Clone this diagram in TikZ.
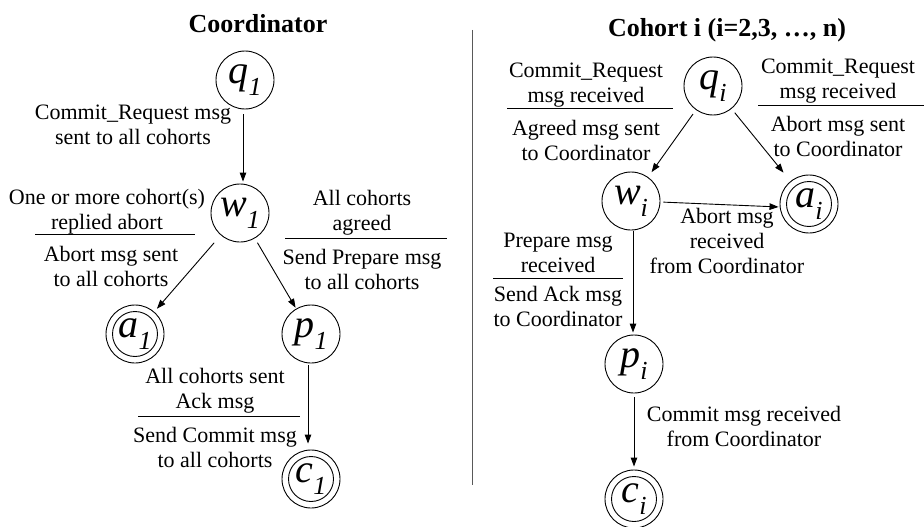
\documentclass[tikz,border=0pt]{standalone}
\usepackage{fontspec}
\setmainfont{Liberation Serif}
\usetikzlibrary{arrows.meta}

% state label: italic letter with an italic subscript
\newcommand{\stname}[2]{\textit{#1}\raisebox{-0.3em}{\fontsize{26}{26}\selectfont\textit{#2}}}

\tikzset{
  state/.style={circle, draw, line width=0.9pt, minimum size=58pt, inner sep=0pt,
    font=\fontsize{40}{40}\selectfont},
  final/.style={state, path picture={\draw[line width=0.9pt]
    (path picture bounding box.center) circle (22.5pt);}},
  lbl/.style={align=center, inner sep=0pt, font=\fontsize{22}{25}\selectfont},
  ttl/.style={inner sep=0pt, font=\fontsize{26}{28}\selectfont\bfseries},
  arr/.style={-{Triangle[length=9pt,width=6.5pt]}, line width=0.9pt},
  bar/.style={line width=0.9pt},
}

\begin{document}
\begin{tikzpicture}[x=1pt, y=-1pt]
\useasboundingbox (0,0) rectangle (924,527);

% ---------------- Coordinator ----------------
\node[ttl] (ctitle) at (258,24) {Coordinator};

\node[state] (q1) at (245,80)  {\stname{q}{1}};
\node[state] (w1) at (240,213) {\stname{w}{1}};
\node[final] (a1) at (135,334) {\stname{a}{1}};
\node[state] (p1) at (311,334) {\stname{p}{1}};
\node[final] (c1) at (311,479) {\stname{c}{1}};

\draw[arr, shorten <=5pt, shorten >=2pt] ([xshift=-2pt]q1.south) -- ([xshift=3pt]w1.north);
\draw[arr, shorten <=10pt, shorten >=4pt] (w1) -- (a1);
\draw[arr, shorten <=5pt, shorten >=1pt] (w1) -- (p1);
\draw[arr, shorten <=2pt, shorten >=6pt] ([xshift=-3pt]p1.south) -- ([xshift=-3pt]c1.north);

\node[lbl] (lq1) at (133,125) {Commit\_Request msg\\sent to all cohorts};

\node[lbl] (la1top) at (107,212) {One or more cohort(s)\\replied abort};
\draw[bar] (35,234) -- (195,234);
\node[lbl] (la1bot) at (111,266) {Abort msg sent\\to all cohorts};

\node[lbl] (lp1top) at (362,213) {All cohorts\\agreed};
\draw[bar] (285,238) -- (447,238);
\node[lbl] (lp1bot) at (362,269) {Send Prepare msg\\to all cohorts};

\node[lbl] (lc1top) at (215,391) {All cohorts sent\\Ack msg};
\draw[bar] (138,416) -- (300,416);
\node[lbl] (lc1bot) at (215,447) {Send Commit msg\\to all cohorts};

% separator between the two machines
\draw[line width=1pt, black!65] (472,30) -- (472,485);

% ---------------- Cohort ----------------
\node[ttl] (htitle) at (727,30) {Cohort i (i=2,3, \ldots, n)};

\node[state] (qi) at (713,86)  {\stname{q}{i}};
\node[state] (wi) at (631,201) {\stname{w}{i}};
\node[final] (ai) at (809,204) {\stname{a}{i}};
\node[state] (pi) at (634,364) {\stname{p}{i}};
\node[final] (ci) at (634,499) {\stname{c}{i}};

\draw[arr, shorten <=5pt, shorten >=6pt] (qi) -- (wi);
\draw[arr, shorten <=5pt, shorten >=11pt] (qi) -- (ai);
\draw[arr, shorten <=3pt, shorten >=1pt] ([yshift=-1pt]wi.east) -- ([yshift=-3pt]ai.west);
\draw[arr, shorten <=1pt, shorten >=2pt] ([xshift=2pt]wi.south) -- ([xshift=-1pt]pi.north);
\draw[arr, shorten <=4pt, shorten >=3pt] (pi) -- (ci);

\node[lbl] (lwtop) at (586,85) {Commit\_Request\\msg received};
\draw[bar] (507,108) -- (673,108);
\node[lbl] (lwbot) at (586,140) {Agreed msg sent\\to Coordinator};

\node[lbl] (latop) at (838,81) {Commit\_Request\\msg received};
\draw[bar] (758,105) -- (924,105);
\node[lbl] (labot) at (838,136) {Abort msg sent\\to Coordinator};

\node[lbl] (lwa) at (727,241) {Abort msg\\received\\from Coordinator};

\node[lbl] (lptop) at (558,253) {Prepare msg\\received};
\draw[bar] (493,278) -- (623,278);
\node[lbl] (lpbot) at (558,306) {Send Ack msg\\to Coordinator};

\node[lbl] (lci) at (744,426) {Commit msg received\\from Coordinator};
\end{tikzpicture}
\end{document}
